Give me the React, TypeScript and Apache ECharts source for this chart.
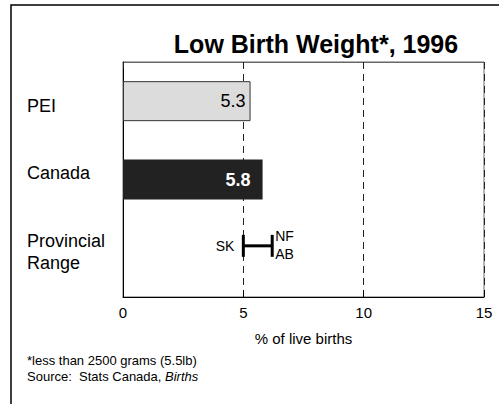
import React, { useEffect, useRef } from "react";
import * as echarts from "echarts";

const categories = ["PEI", "Canada", "Provincial\nRange"];
const barValues = [5.3, 5.8];
const rangeLow = 5.0;
const rangeHigh = 6.2;
const rangeLowLabel = "SK";
const rangeHighLabels = ["NF", "AB"];
const xTicks = [0, 5, 10, 15];
const titleText = "Low Birth Weight*, 1996";
const axisName = "% of live births";
const footnote1 = "*less than 2500 grams (5.5lb)";
const footnote2a = "Source:  Stats Canada, ";
const footnote2b = "Births";

const FONT = "'Liberation Sans', Arial, Helvetica, sans-serif";
const labelShift = [5, -7, -6];

export default function App() {
  const ref = useRef<HTMLDivElement>(null);
  useEffect(() => {
    document.body.style.margin = "0";
    if (!ref.current) return;
    const chart = echarts.init(ref.current, null, { renderer: "svg" });
    const baseGraphic: any[] = [
      {
        type: "polyline",
        shape: { points: [[11, 404], [11, 5], [499, 5]] },
        style: { stroke: "#000", lineWidth: 1.5, fill: null },
      },
      {
        type: "text",
        left: 27,
        top: 354,
        style: { text: footnote1, fontSize: 13, fill: "#000", fontFamily: FONT },
      },
      {
        type: "text",
        left: 27,
        top: 370,
        style: {
          text: footnote2a + "{i|" + footnote2b + "}",
          fontSize: 13,
          fill: "#000",
          fontFamily: FONT,
          rich: { i: { fontStyle: "italic", fontSize: 13, fontFamily: FONT } },
        },
      },
    ];
    const option: any = {
      animation: false,
      backgroundColor: "#fff",
      textStyle: { fontFamily: FONT },
      title: {
        text: titleText,
        left: 311,
        textAlign: "center",
        top: 26,
        textStyle: { fontFamily: FONT, fontSize: 25, fontWeight: "bold", color: "#000" },
      },
      grid: {
        left: 123,
        right: 15,
        top: 62,
        bottom: 107,
        show: true,
        borderColor: "#666",
        borderWidth: 1,
        containLabel: false,
        outerBoundsMode: "none",
      },
      xAxis: [
        {
          type: "value",
          min: xTicks[0],
          max: xTicks[xTicks.length - 1],
          interval: 5,
          position: "bottom",
          axisLine: { show: true, lineStyle: { color: "#000", width: 1 } },
          axisTick: { show: true, inside: true, length: 7, lineStyle: { color: "#000" } },
          axisLabel: { fontSize: 15, color: "#000", margin: 8, fontFamily: FONT },
          splitLine: { show: true, lineStyle: { color: "#222", type: [7, 5], width: 1 } },
          name: axisName,
          nameLocation: "middle",
          nameGap: 34,
          nameTextStyle: { fontSize: 15, color: "#000", fontFamily: FONT },
        },
        {
          type: "value",
          min: xTicks[0],
          max: xTicks[xTicks.length - 1],
          interval: 5,
          position: "top",
          axisLine: { show: true, lineStyle: { color: "#666", width: 1 } },
          axisTick: { show: true, inside: true, length: 7, lineStyle: { color: "#222" } },
          axisLabel: { show: false },
          splitLine: { show: false },
        },
      ],
      yAxis: {
        type: "category",
        data: categories,
        inverse: true,
        axisLine: { show: true, lineStyle: { color: "#000", width: 1 } },
        axisTick: { show: false },
        axisLabel: { show: false },
      },
      series: [
        {
          type: "bar",
          xAxisIndex: 0,
          barWidth: 40,
          data: [
            {
              value: barValues[0],
              itemStyle: { color: "#dcdcdc", borderColor: "#333", borderWidth: 1 },
              label: { show: true, position: "insideRight", distance: 5, fontSize: 18, color: "#000", fontFamily: FONT },
            },
            {
              value: barValues[1],
              itemStyle: { color: "#222" },
              label: { show: true, position: "insideRight", distance: 12, fontSize: 18, fontWeight: "bold", color: "#fff", fontFamily: FONT },
            },
          ],
        },
        {
          type: "custom",
          xAxisIndex: 0,
          data: [[rangeLow, rangeHigh, 2]],
          encode: { x: [0, 1], y: 2 },
          renderItem: (params: any, api: any) => {
            const p1 = api.coord([api.value(0), api.value(2)]);
            const p2 = api.coord([api.value(1), api.value(2)]);
            const y = p1[1] - 12;
            const ls = { stroke: "#000", lineWidth: 3 };
            return {
              type: "group",
              children: [
                { type: "line", shape: { x1: p1[0], y1: y, x2: p2[0], y2: y }, style: ls },
                { type: "line", shape: { x1: p1[0], y1: y - 11, x2: p1[0], y2: y + 11 }, style: ls },
                { type: "line", shape: { x1: p2[0], y1: y - 11, x2: p2[0], y2: y + 11 }, style: ls },
                {
                  type: "text",
                  x: p1[0] - 9,
                  y: y,
                  style: { text: rangeLowLabel, align: "right", verticalAlign: "middle", fontSize: 14, fill: "#000", fontFamily: FONT },
                },
                {
                  type: "text",
                  x: p2[0] + 3,
                  y: y - 10,
                  style: { text: rangeHighLabels[0], align: "left", verticalAlign: "middle", fontSize: 14, fill: "#000", fontFamily: FONT },
                },
                {
                  type: "text",
                  x: p2[0] + 3,
                  y: y + 8,
                  style: { text: rangeHighLabels[1], align: "left", verticalAlign: "middle", fontSize: 14, fill: "#000", fontFamily: FONT },
                },
              ],
            };
          },
        },
      ],
      graphic: baseGraphic,
    };
    chart.setOption(option);
    const catLabels = categories.map((c, i) => {
      const py = chart.convertToPixel({ yAxisIndex: 0 }, i) as number;
      return {
        type: "text",
        x: 27,
        y: py + labelShift[i],
        style: {
          text: c,
          fontSize: 18,
          lineHeight: 22,
          fill: "#000",
          fontFamily: FONT,
          align: "left",
          verticalAlign: "middle",
        },
      };
    });
    chart.setOption({ graphic: [...baseGraphic, ...catLabels] });
    return () => chart.dispose();
  }, []);
  return <div ref={ref} style={{ width: 499, height: 404 }} />;
}
